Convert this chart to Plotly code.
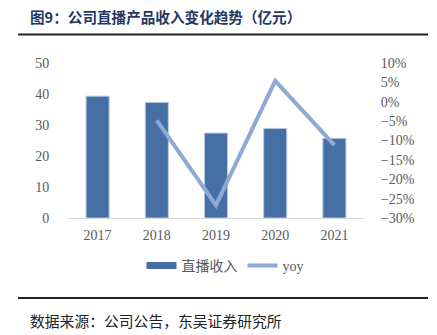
import plotly.graph_objects as go

years = ["2017", "2018", "2019", "2020", "2021"]
revenue = [39.3, 37.3, 27.4, 28.9, 25.7]
yoy_years = ["2018", "2019", "2020", "2021"]
yoy = [-4.8, -26.7, 5.4, -11.2]

W, H = 437, 335
L, R, T, B = 68, 73, 63, 117
PW, PH = W - L - R, H - T - B

BAR_COLOR = "#4670A5"
LINE_COLOR = "#8EAAD4"

fig = go.Figure()
fig.add_trace(go.Bar(
    x=years, y=revenue, name="直播收入", showlegend=False,
    marker=dict(color=BAR_COLOR, line=dict(color="#B9CBE3", width=1)),
    width=0.39, yaxis="y",
))
# legend-only entry giving the wide bar swatch
fig.add_trace(go.Scatter(
    x=[None], y=[None], name="直播收入", mode="lines",
    line=dict(color=BAR_COLOR, width=7), yaxis="y",
))
fig.add_trace(go.Scatter(
    x=yoy_years, y=yoy, name="yoy", mode="lines",
    line=dict(color=LINE_COLOR, width=4), yaxis="y2",
))

tickfont = dict(family="Liberation Serif, Noto Sans CJK SC", size=14, color="#595959")

fig.update_layout(
    width=W, height=H,
    margin=dict(l=L, r=R, t=T, b=B),
    paper_bgcolor="white", plot_bgcolor="white",
    showlegend=True,
    xaxis=dict(
        showline=True, linecolor="#D9D9D9", linewidth=1,
        showgrid=False, ticks="outside", ticklen=4, tickcolor="rgba(0,0,0,0)",
        tickfont=tickfont, fixedrange=True,
    ),
    yaxis=dict(
        range=[0, 50], dtick=10, showgrid=False, zeroline=False,
        ticks="outside", ticklen=15, tickcolor="rgba(0,0,0,0)",
        tickfont=tickfont,
    ),
    yaxis2=dict(
        range=[-30, 10], dtick=5, overlaying="y", side="right",
        showgrid=False, zeroline=False, ticksuffix="%",
        ticks="outside", ticklen=13, tickcolor="rgba(0,0,0,0)",
        tickfont=tickfont,
    ),
    legend=dict(
        orientation="h", x=(225 - L) / PW, xanchor="center",
        y=-(266 - (H - B)) / PH, yanchor="middle",
        font=dict(family="Liberation Serif, Noto Sans CJK SC", size=14, color="#595959"),
        itemwidth=30, tracegroupgap=0,
    ),
)

# Title, rules and source note
fig.add_annotation(
    text="<b>图9：公司直播产品收入变化趋势（亿元）</b>",
    xref="paper", yref="paper",
    x=(28 - L) / PW, y=1 + (T - 17) / PH,
    xanchor="left", yanchor="middle", showarrow=False,
    font=dict(family="Noto Sans CJK SC", size=14.6, color="#1F3864"),
)
fig.add_annotation(
    text="数据来源：公司公告，东吴证券研究所",
    xref="paper", yref="paper",
    x=(28 - L) / PW, y=-(320 - (H - B)) / PH,
    xanchor="left", yanchor="middle", showarrow=False,
    font=dict(family="Noto Sans CJK SC", size=14.8, color="#222222"),
)
for yy in (34.5, 298):
    fig.add_shape(
        type="line", xref="paper", yref="paper",
        x0=(18 - L) / PW, x1=(428 - L) / PW,
        y0=1 + (T - yy) / PH, y1=1 + (T - yy) / PH,
        line=dict(color="#222222", width=2),
    )

fig.write_html("out.html")
